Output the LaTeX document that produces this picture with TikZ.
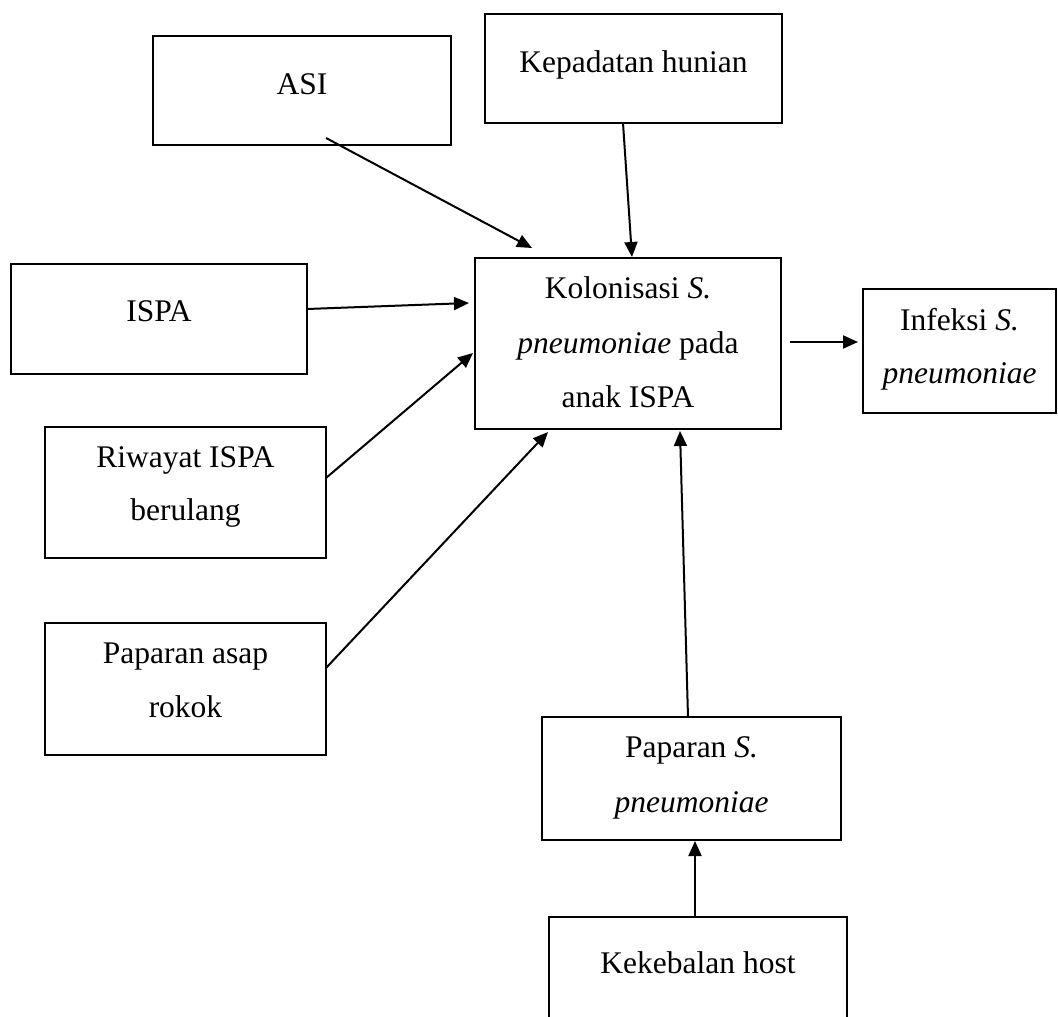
\documentclass[tikz,border=0pt]{standalone}
\usepackage{fontspec}
\setmainfont{Liberation Serif}
\usetikzlibrary{arrows.meta}
\begin{document}
\begin{tikzpicture}[x=1pt,y=-1pt,
  box/.style={draw, line width=2pt, inner sep=0pt, outer sep=0pt},
  txt/.style={anchor=base, inner sep=0pt, font=\fontsize{31.5}{40}\selectfont},
  conn/.style={line width=2pt, -{Triangle[length=15pt,width=13pt]}}]
\useasboundingbox (0,0) rectangle (1058,1017);
\clip (0,0) rectangle (1058,1017);
% boxes
\node[box, minimum width=298pt, minimum height=109pt] (asi)  at (302,90.5) {};
\node[box, minimum width=297pt, minimum height=109pt] (kep)  at (633.5,68.5) {};
\node[box, minimum width=296pt, minimum height=110pt] (ispa) at (159,319) {};
\node[box, minimum width=306pt, minimum height=171pt] (kol)  at (628,343.5) {};
\node[box, minimum width=193pt, minimum height=124pt] (inf)  at (959.5,351) {};
\node[box, minimum width=281pt, minimum height=131pt] (riw)  at (185.5,492.5) {};
\node[box, minimum width=281pt, minimum height=132pt] (asap) at (185.5,689) {};
\node[box, minimum width=299pt, minimum height=123pt] (paps) at (691.5,778.5) {};
\node[box, minimum width=298pt, minimum height=113pt] (kek)  at (698,973.5) {};
% texts
\node[txt] (asiT) at (302,94) {ASI};
\node[txt] (kepT) at (633.5,72) {Kepadatan hunian};
\node[txt] (ispaT) at (159,321) {ISPA};
\node[txt] (kolT1) at (628,298) {Kolonisasi \textit{S.}};
\node[txt] (kolT2) at (628,353) {\textit{pneumoniae} pada};
\node[txt] (kolT3) at (628,407) {anak ISPA};
\node[txt] (infT1) at (959.5,330) {Infeksi \textit{S.}};
\node[txt] (infT2) at (959.5,383) {\textit{pneumoniae}};
\node[txt] (riwT1) at (185.5,467) {Riwayat ISPA};
\node[txt] (riwT2) at (185.5,520) {berulang};
\node[txt] (asapT1) at (185.5,663) {Paparan asap};
\node[txt] (asapT2) at (185.5,717) {rokok};
\node[txt] (papsT1) at (691.5,757) {Paparan \textit{S.}};
\node[txt] (papsT2) at (691.5,812) {\textit{pneumoniae}};
\node[txt] (kekT) at (698,973) {Kekebalan host};
% connector end points
\coordinate (asiOut) at (326,138);   \coordinate (kolA) at (532,248);
\coordinate (kepOut) at (623,123);   \coordinate (kolB) at (632,257);
\coordinate (ispaOut) at (307,309);  \coordinate (kolC) at (469,303);
\coordinate (riwOut) at (326,478);   \coordinate (kolD) at (473,353);
\coordinate (asapOut) at (326,668);  \coordinate (kolE) at (548,432);
\coordinate (kolOut) at (790,342);   \coordinate (infIn) at (858,342);
\coordinate (papsOut) at (688,717);  \coordinate (kolF) at (680,431);
\coordinate (kekOut) at (695,917);   \coordinate (papsIn) at (695,841);
% connectors
\draw[conn] (asiOut) -- (kolA);
\draw[conn] (kepOut) -- (kolB);
\draw[conn] (ispaOut) -- (kolC);
\draw[conn] (riwOut) -- (kolD);
\draw[conn] (asapOut) -- (kolE);
\draw[conn] (kolOut) -- (infIn);
\draw[conn] (papsOut) -- (kolF);
\draw[conn] (kekOut) -- (papsIn);
\end{tikzpicture}
\end{document}
